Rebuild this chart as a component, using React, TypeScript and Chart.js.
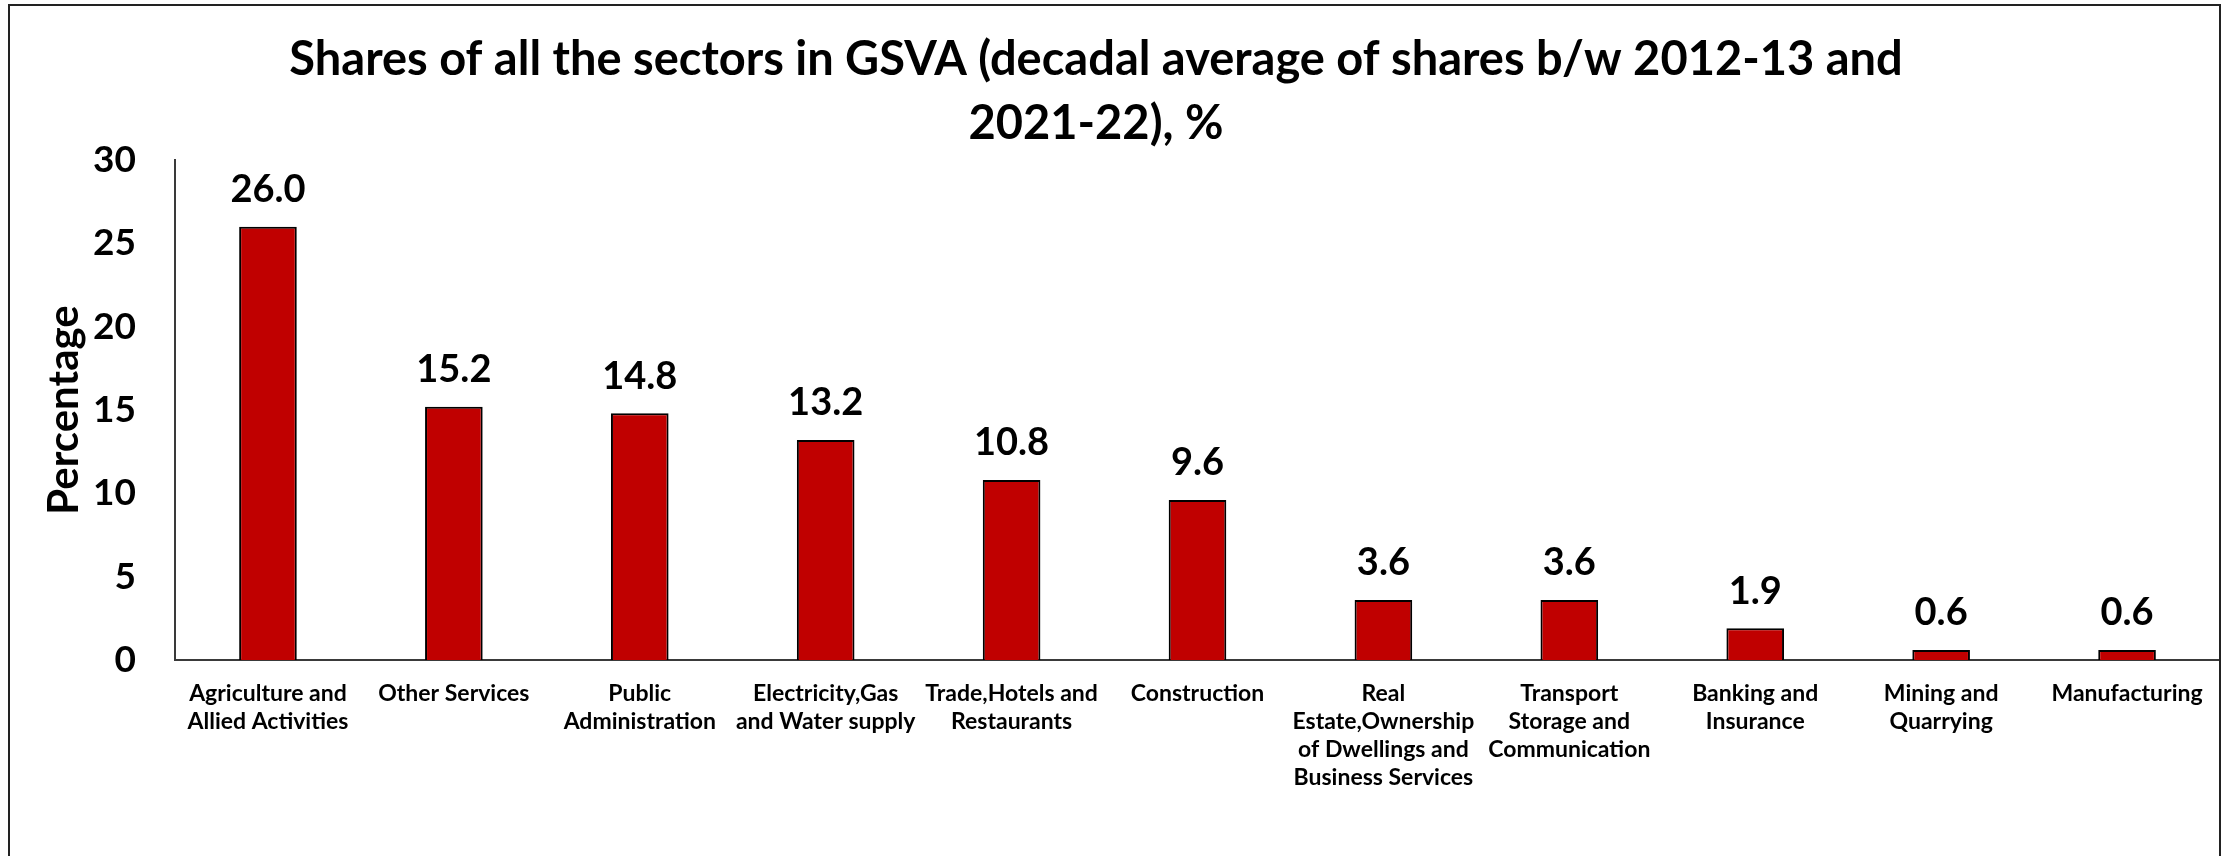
import React, { useEffect, useRef } from "react";
import { Chart, registerables } from "chart.js";

Chart.register(...registerables);

const categories: string[][] = [
  ["Agriculture and", "Allied Activities"],
  ["Other Services"],
  ["Public", "Administration"],
  ["Electricity,Gas", "and Water supply"],
  ["Trade,Hotels and", "Restaurants"],
  ["Construction"],
  ["Real", "Estate,Ownership", "of Dwellings and", "Business Services"],
  ["Transport", "Storage and", "Communication"],
  ["Banking and", "Insurance"],
  ["Mining and", "Quarrying"],
  ["Manufacturing"],
];

const shares: number[] = [26.0, 15.2, 14.8, 13.2, 10.8, 9.6, 3.6, 3.6, 1.9, 0.6, 0.6];

const titleLines: string[] = [
  "Shares of all the sectors in GSVA (decadal average of shares b/w 2012-13 and",
  "2021-22), %",
];

const yTicks: number[] = [0, 5, 10, 15, 20, 25, 30];
const yTitle = "Percentage";

const FONT = "Lato, 'Open Sans', sans-serif";

export default function App() {
  const ref = useRef<HTMLCanvasElement | null>(null);

  useEffect(() => {
    if (!ref.current) return;

    const framePlugin = {
      id: "frame",
      afterDraw(chart: any) {
        const ctx = chart.ctx;
        ctx.save();
        ctx.strokeStyle = "#222";
        ctx.lineWidth = 2;
        ctx.strokeRect(9, 5, 2211, 900);
        ctx.restore();
      },
    };

    const titlePlugin = {
      id: "customTitle",
      afterDraw(chart: any) {
        const ctx = chart.ctx;
        ctx.save();
        ctx.fillStyle = "#000";
        ctx.font = `bold 47px ${FONT}`;
        ctx.textAlign = "center";
        ctx.textBaseline = "middle";
        titleLines.forEach((l, i) => ctx.fillText(l, 1096, 60 + i * 64));
        ctx.restore();
      },
    };

    const labelPlugin = {
      id: "valueLabels",
      afterDatasetsDraw(chart: any) {
        const ctx = chart.ctx;
        const meta = chart.getDatasetMeta(0);
        ctx.save();
        ctx.fillStyle = "#000";
        ctx.font = `bold 38px ${FONT}`;
        ctx.textAlign = "center";
        ctx.textBaseline = "middle";
        meta.data.forEach((bar: any, i: number) => {
          ctx.fillText(shares[i].toFixed(1), bar.x, bar.y - 37);
        });
        ctx.restore();
      },
    };

    const chart = new Chart(ref.current, {
      type: "bar",
      data: {
        labels: categories,
        datasets: [
          {
            data: shares,
            backgroundColor: "#C00000",
            borderColor: "#000",
            borderWidth: 2,
            barPercentage: 0.31,
            categoryPercentage: 1,
          },
        ],
      },
      options: {
        responsive: false,
        animation: false,
        layout: { padding: { top: 160, left: 0, right: 6, bottom: 0 } },
        plugins: {
          legend: { display: false },
          title: { display: false },
          tooltip: { enabled: false },
        },
        scales: {
          x: {
            grid: { display: false, drawTicks: false },
            border: { display: true, color: "#3a3a3a", width: 2 },
            ticks: {
              color: "#000",
              font: { family: FONT, size: 23, weight: "bold", lineHeight: 1.23 },
              padding: 19,
              maxRotation: 0,
              autoSkip: false,
            },
            afterFit(scale: any) {
              scale.height = 196;
            },
          },
          y: {
            min: 0,
            max: 30,
            afterBuildTicks(scale: any) {
              scale.ticks = yTicks.map((v) => ({ value: v }));
            },
            grid: { display: false, drawTicks: false },
            border: { display: true, color: "#3a3a3a", width: 2 },
            ticks: {
              color: "#000",
              font: { family: FONT, size: 37, weight: "bold" },
              padding: 39,
            },
            title: {
              display: true,
              text: yTitle,
              color: "#000",
              font: { family: FONT, size: 42, weight: "bold", lineHeight: 1.2 },
              padding: { top: 39, bottom: 0 },
            },
            afterFit(scale: any) {
              scale.width = 175;
            },
          },
        },
      },
      plugins: [framePlugin, titlePlugin, labelPlugin],
    });

    return () => chart.destroy();
  }, []);

  return (
    <div style={{ position: "absolute", left: 0, top: 0, width: 2226, height: 856, background: "#fff" }}>
      <canvas ref={ref} width={2226} height={856} style={{ display: "block" }} />
    </div>
  );
}
